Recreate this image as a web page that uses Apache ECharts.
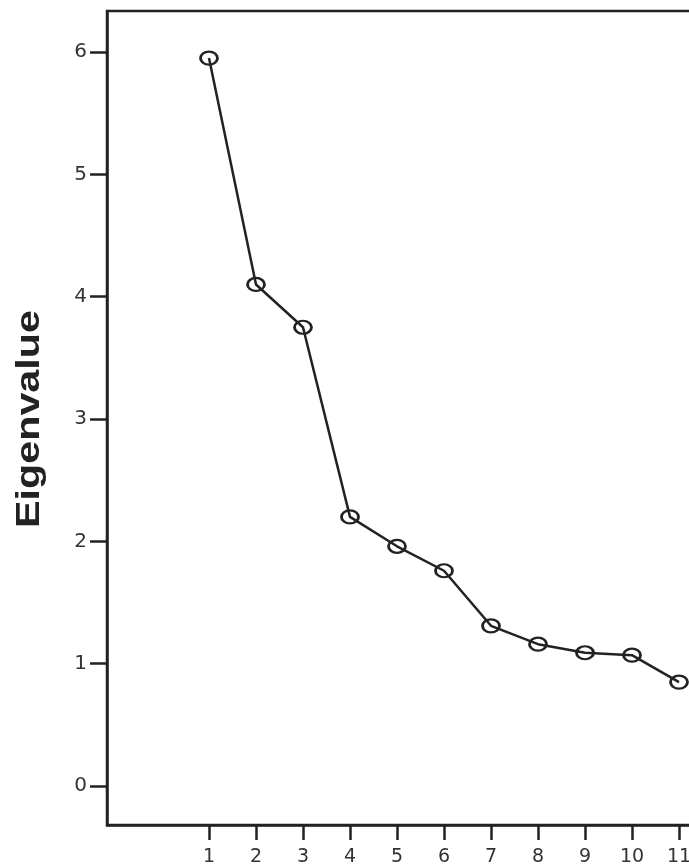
<!DOCTYPE html>
<html>
<head>
<meta charset="utf-8">
<script src="https://cdn.jsdelivr.net/npm/echarts@6/dist/echarts.min.js"></script>
<style>html,body{margin:0;padding:0;background:#fff}#c{width:689px;height:868px}</style>
</head>
<body>
<div id="c"></div>
<script>
const components = [1, 2, 3, 4, 5, 6, 7, 8, 9, 10, 11];
const eigenvalues = [5.95, 4.10, 3.75, 2.20, 1.96, 1.76, 1.31, 1.16, 1.09, 1.07, 0.85];
const yTicks = [0, 1, 2, 3, 4, 5, 6];
const yTitle = 'Eigenvalue';

const chart = echarts.init(document.getElementById('c'));
chart.setOption({
  backgroundColor: '#fff',
  animation: false,
  grid: {
    left: 107, top: 11, right: -30, bottom: 43,
    containLabel: false, outerBoundsMode: 'none',
    show: true, borderColor: '#222', borderWidth: 2.5, backgroundColor: 'transparent'
  },
  xAxis: {
    type: 'value', min: -1.17, max: 11.851,
    splitLine: {show: false},
    axisLine: {show: true, onZero: false, lineStyle: {color: '#222', width: 2.5}},
    axisTick: {show: true, customValues: components, length: 15, lineStyle: {color: '#222', width: 2.5}},
    axisLabel: {show: true, customValues: components, margin: 23, color: '#333', fontSize: 19, fontFamily: 'DejaVu Sans'}
  },
  yAxis: {
    type: 'value', min: -0.318, max: 6.335,
    splitLine: {show: false},
    axisLine: {show: true, onZero: false, lineStyle: {color: '#222', width: 2.5}},
    axisTick: {show: true, customValues: yTicks, length: 17, lineStyle: {color: '#222', width: 2.5}},
    axisLabel: {show: true, customValues: yTicks, margin: 20, color: '#333', fontSize: 20, fontFamily: 'DejaVu Sans'}
  },
  graphic: [{
    type: 'text',
    x: 30, y: 419,
    rotation: Math.PI / 2,
    scaleX: 1.25, scaleY: 1,
    style: {
      text: yTitle,
      fontSize: 33, fontWeight: 'bold', fontFamily: 'Liberation Sans',
      fill: '#222', align: 'center', verticalAlign: 'middle'
    }
  }],
  series: [{
    type: 'line',
    data: components.map((c, i) => [c, eigenvalues[i]]),
    lineStyle: {color: '#222', width: 2.5},
    symbol: 'circle', symbolSize: [17, 13],
    itemStyle: {color: 'rgba(0,0,0,0)', borderColor: '#222', borderWidth: 2.5},
    clip: false
  }]
});
</script>
</body>
</html>
